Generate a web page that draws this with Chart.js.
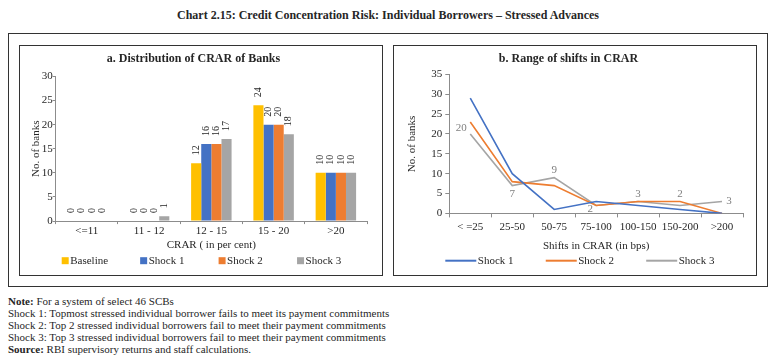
<!DOCTYPE html>
<html><head><meta charset="utf-8">
<script src="https://cdn.jsdelivr.net/npm/chart.js@4"></script>
<style>
body{margin:0;width:774px;height:360px;background:#fff;font-family:"Liberation Serif",serif;position:relative;overflow:hidden;color:#262626}
#title{position:absolute;top:8px;left:0;width:776px;text-align:center;font-weight:bold;font-size:12px}
#outer{position:absolute;left:8px;top:33px;width:760px;height:254px;border:1px solid #333;box-sizing:border-box}
.panel{position:absolute;top:45px;height:231px;width:364px;border:1px solid #333;box-sizing:border-box}
#pa{left:19px}
#pb{left:393px}
.wrap{position:absolute;left:0;top:0;width:362px;height:229px}
#notes{position:absolute;left:8px;top:295px;font-size:11px;line-height:12px}
</style></head>
<body>
<div id="title">Chart 2.15: Credit Concentration Risk: Individual Borrowers – Stressed Advances</div>
<div id="outer"></div>
<div class="panel" id="pa"><div class="wrap"><canvas id="ca"></canvas></div></div>
<div class="panel" id="pb"><div class="wrap"><canvas id="cb"></canvas></div></div>
<div id="notes"><b>Note:</b> For a system of select 46 SCBs<br>Shock 1: Topmost stressed individual borrower fails to meet its payment commitments<br>Shock 2: Top 2 stressed individual borrowers fail to meet their payment commitments<br>Shock 3: Top 3 stressed individual borrowers fail to meet their payment commitments<br><b>Source:</b> RBI supervisory returns and staff calculations.</div>
<script>
// ---- data ----
const crarCategories = ['<=11', '11 - 12', '12 - 15', '15 - 20', '>20'];
const baselineBanks = [0, 0, 12, 24, 10];
const shock1Banks = [0, 0, 16, 20, 10];
const shock2Banks = [0, 0, 16, 20, 10];
const shock3Banks = [0, 1, 17, 18, 10];

const shiftCategories = ['< =25', '25-50', '50-75', '75-100', '100-150', '150-200', '>200'];
const shock1Shift = [29, 10, 1, 3, 2, 1, 0];
const shock2Shift = [23, 8, 7, 2, 3, 3, 0];
const shock3Shift = [20, 7, 9, 2, 3, 2, 3];

const barSeriesNames = ['Baseline', 'Shock 1', 'Shock 2', 'Shock 3'];
const lineSeriesNames = ['Shock 1', 'Shock 2', 'Shock 3'];

// ---- styles ----
const FONT = '"Liberation Serif", serif';
const TXT = '#262626';
const AX = '#8c8c8c';
const colBaseline = '#FFC000', colS1 = '#4472C4', colS2 = '#ED7D31', colS3 = '#A5A5A5';

const barLabelPlugin = {
  id: 'barLabels',
  afterDatasetsDraw(chart) {
    const ctx = chart.ctx;
    ctx.save();
    ctx.font = '10px ' + FONT;
    ctx.fillStyle = TXT;
    chart.data.datasets.forEach((ds, i) => {
      const meta = chart.getDatasetMeta(i);
      meta.data.forEach((el, j) => {
        ctx.save();
        ctx.translate(el.x, el.y - 8);
        ctx.rotate(-Math.PI / 2);
        ctx.textAlign = 'left';
        ctx.textBaseline = 'middle';
        ctx.fillText(String(ds.data[j]), 0, 0);
        ctx.restore();
      });
    });
    ctx.restore();
  }
};

const lineLabelPlugin = {
  id: 'lineLabels',
  afterDatasetsDraw(chart, args, opts) {
    const ctx = chart.ctx;
    const di = opts.datasetIndex;
    const ds = chart.data.datasets[di];
    const meta = chart.getDatasetMeta(di);
    ctx.save();
    ctx.font = '11px ' + FONT;
    ctx.fillStyle = '#7f7f7f';
    ctx.textBaseline = 'middle';
    ctx.textAlign = 'center';
    meta.data.forEach((el, j) => {
      const o = opts.offsets[j];
      ctx.fillText(String(ds.data[j]), el.x + o[0], el.y + o[1]);
    });
    ctx.restore();
  }
};

// custom legend evenly spread under the plot
const spreadLegendPlugin = {
  id: 'spreadLegend',
  afterDraw(chart, args, opts) {
    const ctx = chart.ctx;
    const a = chart.chartArea;
    const y = chart.height - opts.fromBottom;
    const step = a.width * opts.stepFrac;
    ctx.save();
    ctx.font = '11px ' + FONT;
    ctx.textBaseline = 'middle';
    ctx.textAlign = 'left';
    chart.data.datasets.forEach((ds, i) => {
      const x = a.left + opts.startOffset + i * step;
      if (opts.kind === 'box') {
        ctx.fillStyle = ds.backgroundColor;
        ctx.fillRect(x, y - 3.5, 7, 7);
        ctx.fillStyle = TXT;
        ctx.fillText(ds.label, x + 8.5, y + 0.5);
      } else {
        ctx.strokeStyle = ds.borderColor;
        ctx.lineWidth = 2;
        ctx.beginPath();
        ctx.moveTo(x, y);
        ctx.lineTo(x + 31, y);
        ctx.stroke();
        ctx.fillStyle = TXT;
        ctx.fillText(ds.label, x + 32.5, y + 0.5);
      }
    });
    ctx.restore();
  }
};

new Chart(document.getElementById('ca'), {
  type: 'bar',
  data: {
    labels: crarCategories,
    datasets: [
      { label: barSeriesNames[0], data: baselineBanks, backgroundColor: colBaseline },
      { label: barSeriesNames[1], data: shock1Banks, backgroundColor: colS1 },
      { label: barSeriesNames[2], data: shock2Banks, backgroundColor: colS2 },
      { label: barSeriesNames[3], data: shock3Banks, backgroundColor: colS3 }
    ]
  },
  options: {
    responsive: true, maintainAspectRatio: false, animation: false,
    datasets: { bar: { categoryPercentage: 0.65, barPercentage: 1.0, borderWidth: 0 } },
    layout: { padding: { left: 0, right: 15, top: 0, bottom: 23 } },
    plugins: {
      title: { display: true, text: 'a. Distribution of CRAR of Banks', color: TXT,
        font: { family: FONT, size: 12, weight: 'bold' }, padding: { top: 6, bottom: 10 } },
      legend: { display: false },
      tooltip: { enabled: false },
      spreadLegend: { kind: 'box', fromBottom: 14.3, startOffset: 6, stepFrac: 0.252 }
    },
    scales: {
      x: {
        grid: { display: true, drawOnChartArea: false, drawTicks: true, tickLength: 3, color: AX },
        border: { display: true, color: AX },
        ticks: { color: TXT, font: { family: FONT, size: 11 }, padding: 0, maxRotation: 0, minRotation: 0, autoSkip: false },
        title: { display: true, text: 'CRAR ( in per cent)', color: TXT, font: { family: FONT, size: 11 }, padding: { top: 1.5, bottom: 0 } }
      },
      y: {
        min: 0, max: 30,
        grid: { display: true, drawOnChartArea: false, drawTicks: true, tickLength: 3, color: AX },
        border: { display: true, color: AX },
        ticks: { stepSize: 5, color: TXT, font: { family: FONT, size: 11 }, padding: 0 },
        title: { display: true, text: 'No. of banks', color: TXT, font: { family: FONT, size: 11 }, padding: { top: 10, bottom: -1.5 } }
      }
    }
  },
  plugins: [barLabelPlugin, spreadLegendPlugin]
});

new Chart(document.getElementById('cb'), {
  type: 'line',
  data: {
    labels: shiftCategories,
    datasets: [
      { label: lineSeriesNames[0], data: shock1Shift, borderColor: colS1, backgroundColor: colS1 },
      { label: lineSeriesNames[1], data: shock2Shift, borderColor: colS2, backgroundColor: colS2 },
      { label: lineSeriesNames[2], data: shock3Shift, borderColor: colS3, backgroundColor: colS3 }
    ]
  },
  options: {
    responsive: true, maintainAspectRatio: false, animation: false,
    datasets: { line: { borderWidth: 1.6, pointRadius: 0, tension: 0, fill: false } },
    layout: { padding: { left: 0, right: 13, top: 0, bottom: 22 } },
    plugins: {
      title: { display: true, text: 'b. Range of shifts in CRAR', color: TXT,
        font: { family: FONT, size: 12, weight: 'bold' }, padding: { top: 6, bottom: 8 } },
      legend: { display: false },
      tooltip: { enabled: false },
      spreadLegend: { kind: 'line', fromBottom: 14.3, startOffset: -4, stepFrac: 0.342 },
      lineLabels: { datasetIndex: 2, offsets: [[-9, -6], [0, 9], [0, -8], [-6, 4], [0, -7], [0, -11], [7, 0]] }
    },
    scales: {
      x: {
        offset: true,
        grid: { display: true, offset: true, drawOnChartArea: false, drawTicks: true, tickLength: 4, color: AX },
        border: { display: true, color: AX },
        ticks: { color: TXT, font: { family: FONT, size: 11 }, padding: 3, maxRotation: 0, minRotation: 0, autoSkip: false },
        title: { display: true, text: 'Shifts in CRAR (in bps)', color: TXT, font: { family: FONT, size: 11 }, padding: { top: 3.2, bottom: 0 } }
      },
      y: {
        min: 0, max: 35,
        grid: { display: true, drawOnChartArea: false, drawTicks: true, tickLength: 4, color: AX },
        border: { display: true, color: AX },
        ticks: { stepSize: 5, color: TXT, font: { family: FONT, size: 11 }, padding: 3 },
        title: { display: true, text: 'No. of banks', color: TXT, font: { family: FONT, size: 11 }, padding: { top: 11.1, bottom: 10 } }
      }
    }
  },
  plugins: [lineLabelPlugin, spreadLegendPlugin]
});
</script>
</body></html>
